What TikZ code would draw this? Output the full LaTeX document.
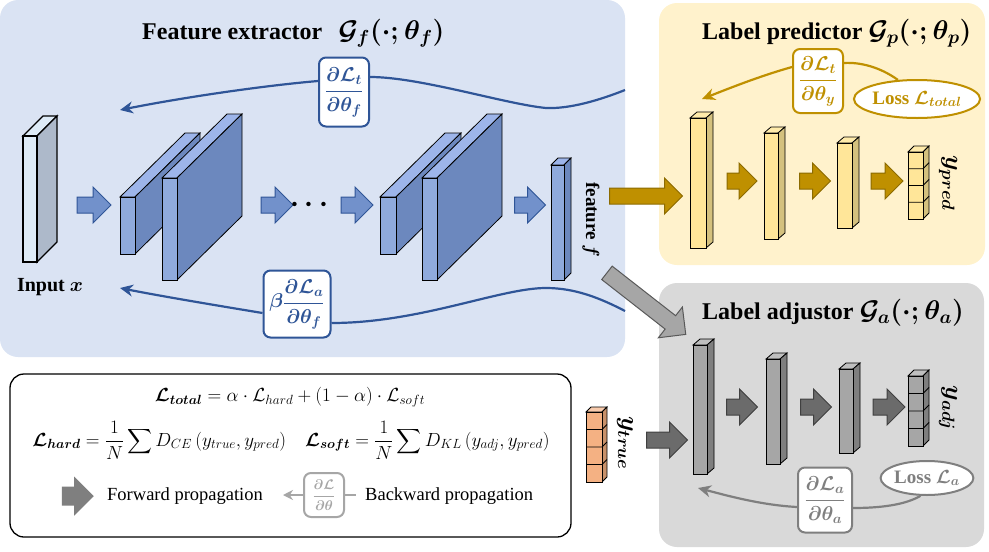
\documentclass[tikz,border=0pt]{standalone}
\usepackage{fix-cm}
\usepackage{amsmath,bm}
\usepackage{fontspec}
\setmainfont{Liberation Serif}
\usetikzlibrary{shapes.arrows,shapes.geometric,arrows.meta}

\definecolor{bluepanel}{HTML}{DAE3F3}
\definecolor{yellowpanel}{HTML}{FFF2CC}
\definecolor{graypanel}{HTML}{D9D9D9}
\definecolor{blueline}{HTML}{2F5597}
\definecolor{blockblue}{HTML}{7291CB}
\definecolor{gold}{HTML}{BF9000}
\definecolor{golddark}{HTML}{8C6B00}
\definecolor{lossgray}{HTML}{7F7F7F}
\definecolor{legendgray}{HTML}{A6A6A6}
\definecolor{arrowgray}{HTML}{6B6B6B}
\definecolor{slabfront}{HTML}{8FAADC}
\definecolor{slabside}{HTML}{6C88BE}
\definecolor{slabtop}{HTML}{9DB5EA}
\definecolor{inpfront}{HTML}{DEEBF7}
\definecolor{inpside}{HTML}{ADB9CA}
\definecolor{inptop}{HTML}{DEEBF7}
\definecolor{ylwfront}{HTML}{FFE699}
\definecolor{ylwside}{HTML}{D4C17E}
\definecolor{ylwtop}{HTML}{FFEBAA}
\definecolor{gryfront}{HTML}{A6A6A6}
\definecolor{gryside}{HTML}{7F7F7F}
\definecolor{grytop}{HTML}{BFBFBF}
\definecolor{orgfront}{HTML}{F4B183}
\definecolor{orgside}{HTML}{C8916A}
\definecolor{orgtop}{HTML}{F8CBAD}

\newcommand{\fsz}[1]{\fontsize{#1}{#1}\selectfont}

% box with depth: [opts]{x}{y}{w}{h}{dx}{dy}{colour prefix}
\newcommand{\cuboid}[8][]{%
  \filldraw[cubeline,fill=#8top,#1] (#2,#3) -- ++(#6,#7) -- ++(#4,0) -- ++({-(#6)},{-(#7)}) -- cycle;
  \filldraw[cubeline,fill=#8side,#1] ({#2+#4},#3) -- ++(#6,#7) -- ++(0,#5) -- ++({-(#6)},{-(#7)}) -- cycle;
  \filldraw[cubeline,fill=#8front,#1] (#2,#3) rectangle ++(#4,#5);
}
% column of four cells
\newcommand{\cellstack}[7]{%
  \cuboid{#1}{#2}{#3}{#4}{#5}{#6}{#7}
  \foreach \k in {1,2,3}
    \draw[cubeline] (#1,{#2+\k*#4/4}) -- ++(#3,0) -- ++(#5,#6);
}

\tikzset{
  cubeline/.style={draw=black,line width=0.8pt},
  title/.style={font=\fsz{24}\bfseries\boldmath,inner sep=0pt,anchor=base west},
  gradbox/.style={draw,fill=white,rounded corners=7pt,line width=2pt,inner sep=1pt,font=\fsz{20}\boldmath},
  gradcurve/.style={line width=2.2pt},
  gradtip/.style={-{Stealth[length=13pt,width=12pt]}},
  lossnode/.style={ellipse,draw,fill=white,line width=2pt,inner sep=0pt,font=\fsz{19}\bfseries\boldmath},
  blockarrow/.style={single arrow,draw,inner xsep=0pt,line width=1pt},
  bluefwd/.style={blockarrow,fill=blockblue,draw=blueline,inner ysep=7.5pt,single arrow head extend=10pt},
  goldfwd/.style={blockarrow,fill=gold,draw=golddark,inner ysep=7.5pt,single arrow head extend=10pt},
  grayfwd/.style={blockarrow,fill=arrowgray,draw=black!75,inner ysep=7.5pt,single arrow head extend=10pt},
  diagfwd/.style={blockarrow,fill=legendgray,draw=black!65,inner ysep=8pt,single arrow head extend=11pt},
  legendfwd/.style={blockarrow,fill=lossgray,draw=none,inner ysep=9pt,single arrow head extend=10pt},
  plain/.style={font=\fsz{18.5},inner sep=0pt},
  sidelabel/.style={font=\fsz{25}\boldmath,inner sep=0pt,rotate=-90},
}

\begin{document}
\begin{tikzpicture}[x=1pt,y=-1pt]
\useasboundingbox (0,0) rectangle (989,552);

% panels
\fill[bluepanel,rounded corners=18pt] (0,0) rectangle (625,357);
\fill[yellowpanel,rounded corners=18pt] (659,3) rectangle (985,265);
\fill[graypanel,rounded corners=18pt] (659,283) rectangle (984,547);
\draw[line width=1.3pt,fill=white,rounded corners=14pt] (10,374) rectangle (571,537);

% feature extractor
\node[title] (fetitle) at (142,39) {Feature extractor\hspace{10pt} {\fsz{27}$\mathcal{G}_f(\cdot;\theta_f)$}};

\cuboid[line width=1.4pt]{23}{136}{14}{126}{20}{-20}{inp}
\node[font=\fsz{20}\bfseries\boldmath,inner sep=0pt] (inlabel) at (50,287) {Input $x$};

\node[bluefwd,minimum height=34pt] (fwda) at (90,205) {};
\cuboid{120}{197}{15}{57}{65}{-64}{slab}
\cuboid{162}{178}{15}{102}{65}{-64}{slab}
\node[bluefwd,minimum height=32pt] (fwdb) at (273,205) {};
\node[font=\fsz{28}\boldmath,inner sep=0pt] (dots) at (312,205) {$\cdots$};
\node[bluefwd,minimum height=32pt] (fwdc) at (353,205) {};
\cuboid{380}{197}{16}{57}{65}{-64}{slab}
\cuboid{422}{178}{15}{102}{65}{-64}{slab}
\node[bluefwd,minimum height=31pt] (fwdd) at (526,205) {};
\cuboid{551}{165}{13}{115}{7}{-7}{slab}
\node[font=\fsz{19}\bfseries\boldmath,inner sep=0pt,rotate=-90] (featlabel) at (591,220) {feature $f$};

% gradients back to the extractor
\node[gradbox,draw=blueline,text=blueline,minimum width=50pt,minimum height=69pt] (gradt) at (344,92)
  {$\dfrac{\partial\mathcal{L}_t}{\partial\theta_f}$};
\coordinate (tailt) at (625,90);
\coordinate (tipt) at (120,110);
\draw[gradcurve,blueline] (tailt) .. controls (600,100) and (570,109) .. (546,108)
  .. controls (505,104) and (420,77) .. ([yshift=15pt]gradt.east);
\draw[gradcurve,blueline,gradtip] ([yshift=11pt]gradt.west) .. controls (260,86) and (180,98) .. (tipt);

\node[gradbox,draw=blueline,text=blueline,minimum width=67pt,minimum height=67pt] (gradb) at (297,304)
  {$\beta\dfrac{\partial\mathcal{L}_a}{\partial\theta_f}$};
\coordinate (tailb) at (625,311);
\coordinate (tipb) at (120,288);
\draw[gradcurve,blueline] (tailb) .. controls (600,298) and (575,288) .. (546,288)
  .. controls (500,288) and (420,323) .. ([yshift=-19pt]gradb.east);
\draw[gradcurve,blueline,gradtip] ([yshift=-9pt]gradb.west) .. controls (220,306) and (160,296) .. (tipb);

% label predictor
\node[title] (lptitle) at (702,39) {Label predictor {\fsz{27}$\mathcal{G}_p(\cdot;\theta_p)$}};
\node[goldfwd,minimum height=73pt] (fwdgold) at (642,196) {};
\cuboid{690}{118}{16}{130}{7}{-6}{ylw}
\node[goldfwd,minimum height=30pt] (fwdp1) at (738,181) {};
\cuboid{764}{133}{14}{106}{7}{-6}{ylw}
\node[goldfwd,minimum height=31pt] (fwdp2) at (811,181) {};
\cuboid{837}{143}{15}{85}{7}{-6}{ylw}
\node[goldfwd,minimum height=32pt] (fwdp3) at (883,181) {};
\cellstack{908}{152}{15}{67}{6}{-6}{ylw}
\node[sidelabel] (ypred) at (948,183) {$y_{pred}$};

\node[gradbox,draw=gold,text=gold,minimum width=50pt,minimum height=64pt] (grady) at (818,81)
  {$\dfrac{\partial\mathcal{L}_t}{\partial\theta_y}$};
\node[lossnode,draw=gold,text=gold,minimum width=115pt,minimum height=38pt] (losst) at (917,99)
  {Loss $\mathcal{L}_{total}$};
\coordinate (tipy) at (702,99);
\draw[gradcurve,gold] (losst.135) .. controls (880,67) and (860,62) .. ([yshift=18pt]grady.east);
\draw[gradcurve,gold,gradtip] ([yshift=14pt]grady.west) .. controls (760,76) and (730,88) .. (tipy);

% label adjustor
\node[title] (latitle) at (702,319) {Label adjustor {\fsz{27}$\mathcal{G}_a(\cdot;\theta_a)$}};
\node[diagfwd,minimum height=100pt,rotate=-38] (fwddiag) at (643,301) {};
\cellstack{586}{412}{16}{70}{5}{-5}{org}
\node[sidelabel] (ytrue) at (625,443) {$y_{true}$};
\node[grayfwd,minimum height=41pt] (fwdtrue) at (663,440) {};
\cuboid{693}{345}{14}{129}{7}{-6}{gry}
\node[grayfwd,minimum height=31pt] (fwda1) at (738,407) {};
\cuboid{766}{359}{14}{105}{7}{-6}{gry}
\node[grayfwd,minimum height=31pt] (fwda2) at (812,407) {};
\cuboid{839}{369}{14}{84}{7}{-6}{gry}
\node[grayfwd,minimum height=32pt] (fwda3) at (885,407) {};
\cellstack{908}{376}{15}{70}{6}{-6}{gry}
\node[sidelabel] (yadj) at (948,408) {$y_{adj}$};

\node[gradbox,draw=lossgray,text=lossgray,minimum width=54pt,minimum height=65pt] (grada) at (825,500)
  {$\dfrac{\partial\mathcal{L}_a}{\partial\theta_a}$};
\node[lossnode,draw=lossgray,text=lossgray,minimum width=92pt,minimum height=34pt] (lossa) at (927,478)
  {Loss $\mathcal{L}_a$};
\coordinate (tipa) at (698,488);
\draw[gradcurve,lossgray] (lossa.250) .. controls (905,505) and (880,508) .. ([yshift=-8pt]grada.east);
\draw[gradcurve,lossgray,gradtip] ([yshift=-7pt]grada.west) .. controls (760,505) and (725,495) .. (tipa);

% legend
\node[font=\fsz{19},inner sep=0pt] (eqtotal) at (290,397)
  {$\bm{\mathcal{L}_{total}}=\alpha\cdot\mathcal{L}_{hard}+(1-\alpha)\cdot\mathcal{L}_{soft}$};
\node[font=\fsz{19},inner sep=0pt] (eqparts) at (291,440)
  {$\bm{\mathcal{L}_{hard}}=\dfrac{1}{N}\displaystyle\sum D_{CE}\,(y_{true},y_{pred})\quad
    \bm{\mathcal{L}_{soft}}=\dfrac{1}{N}\displaystyle\sum D_{KL}\,(y_{adj},y_{pred})$};
\node[legendfwd,minimum height=32pt] (fwdleg) at (73,496) {};
\node[plain,anchor=west] (fwdtext) at (107,496) {Forward propagation};
\node[gradbox,draw=legendgray,text=legendgray,minimum width=40pt,minimum height=44pt,font=\fsz{14}\boldmath] (gradleg) at (324,495)
  {$\dfrac{\partial\mathcal{L}}{\partial\theta}$};
\coordinate (legtip) at (283,495);
\coordinate (legtail) at (356,495);
\draw[gradcurve,legendgray,-{Stealth[length=10pt,width=10pt]}] (gradleg) -- (legtip);
\draw[gradcurve,legendgray] (gradleg) -- (legtail);
\node[plain,anchor=west] (bwdtext) at (365,496) {Backward propagation};

\end{tikzpicture}
\end{document}
